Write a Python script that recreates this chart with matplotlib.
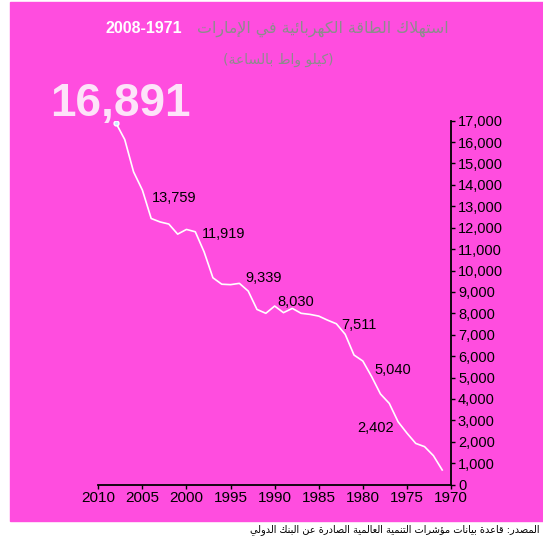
import matplotlib
matplotlib.use('Agg')
import matplotlib.pyplot as plt
from matplotlib.patches import Rectangle
from matplotlib.ticker import FuncFormatter, MultipleLocator

# electricity consumption, kWh per capita
years = list(range(2008, 1970, -1))
values = [16891, 16120, 14610, 13759, 12430, 12270, 12170, 11700, 11919, 11810,
          10870, 9660, 9360, 9339, 9400, 9040, 8180, 8000, 8340, 8030,
          8230, 8000, 7950, 7870, 7680, 7511, 7020, 6050, 5770, 5040,
          4230, 3790, 2930, 2402, 1920, 1770, 1350, 680]
label_years = [2005, 2000, 1995, 1989, 1983, 1979, 1975]
big_year = 2008

title_ar = 'استهلاك الطاقة الكهربائية في الإمارات'
title_years = '2008-1971'
subtitle_ar = 'كيلو واط بالساعة'
source_ar = 'المصدر: قاعدة بيانات مؤشرات التنمية العالمية الصادرة عن البنك الدولي'

# matplotlib does no arabic shaping, so pick the presentation forms by hand
dual = {'ب': 0xFE8F, 'ت': 0xFE95, 'س': 0xFEB1, 'ش': 0xFEB5, 'ص': 0xFEB9,
        'ط': 0xFEC1, 'ع': 0xFEC9, 'ف': 0xFED1, 'ق': 0xFED5, 'ك': 0xFED9,
        'ل': 0xFEDD, 'م': 0xFEE1, 'ن': 0xFEE5, 'ه': 0xFEE9, 'ي': 0xFEF1,
        'ئ': 0xFE89}
right = {'ا': 0xFE8D, 'إ': 0xFE87, 'ة': 0xFE93, 'د': 0xFEA9, 'ر': 0xFEAD,
         'و': 0xFEED, 'ؤ': 0xFE85}
lamalef = {'ا': 0xFEFB, 'إ': 0xFEF9}


def shape(s):
    out = []
    i = 0
    prev_joins = False
    while i < len(s):
        c = s[i]
        nxt = s[i + 1] if i + 1 < len(s) else ''
        if c == 'ل' and nxt in lamalef:
            out.append(chr(lamalef[nxt] + (1 if prev_joins else 0)))
            prev_joins = False
            i += 2
            continue
        if c in dual:
            b = dual[c]
            joins_next = nxt in dual or nxt in right
            if prev_joins and joins_next:
                out.append(chr(b + 3))
            elif prev_joins:
                out.append(chr(b + 1))
            elif joins_next:
                out.append(chr(b + 2))
            else:
                out.append(chr(b))
            prev_joins = joins_next
        elif c in right:
            out.append(chr(right[c] + (1 if prev_joins else 0)))
            prev_joins = False
        else:
            out.append(c)
            prev_joins = False
        i += 1
    return ''.join(out[::-1])


plt.rcParams['font.family'] = ['Liberation Sans', 'DejaVu Sans']
pink = '#ff4ddf'

fig = plt.figure(figsize=(5.43, 5.41), dpi=100)
fig.patches.append(Rectangle((10 / 543, 1 - 521 / 541), 533 / 543, 519 / 541,
                             transform=fig.transFigure, color=pink, zorder=-5))

ax = fig.add_axes([0.181, 0.1044, 0.6496, 0.6725])
ax.set_facecolor('none')
ax.plot(years, values, color='white', lw=1.2)
ax.plot([big_year], [values[years.index(big_year)]], marker='o', ms=3.5,
        mfc='#c6ecff', mec='white', mew=1)

ax.set_xlim(2010, 1970)
ax.set_ylim(0, 17000)
ax.xaxis.set_major_locator(MultipleLocator(5))
ax.yaxis.set_major_locator(MultipleLocator(1000))
ax.yaxis.set_major_formatter(FuncFormatter(lambda v, p: f'{int(v):,}'))
ax.yaxis.tick_right()
for s in ['top', 'left']:
    ax.spines[s].set_visible(False)
ax.spines['right'].set_linewidth(1.3)
ax.spines['bottom'].set_linewidth(1.3)
ax.tick_params(axis='both', length=3, width=1, labelsize=10.5, pad=2)
ax.tick_params(axis='x', labelsize=11)

offsets = {2005: (10, -12, 'left'), 2000: (15, -9, 'left'), 1995: (15, 3, 'left'),
           1989: (-6, 7, 'left'), 1983: (5, -5, 'left'), 1979: (3, 3, 'left'),
           1975: (-13, 1, 'right')}
for yr in label_years:
    v = values[years.index(yr)]
    dx, dy, ha = offsets[yr]
    ax.annotate(f'{v:,}', (yr, v), xytext=(dx, dy), textcoords='offset pixels',
                ha=ha, va='baseline', fontsize=10.5, color='black')

bv = values[years.index(big_year)]
ax.annotate(f'{bv:,}', (big_year, bv), xytext=(-66, 7), textcoords='offset pixels',
            ha='left', va='baseline', fontsize=33, fontweight='bold',
            color='#fde3f9', annotation_clip=False)

fig.text(449 / 543, 1 - 33 / 541, shape(title_ar), ha='right', va='baseline',
         fontsize=11.4, color='#8c8c8c', family=['DejaVu Sans'])
fig.text(182 / 543, 1 - 33 / 541, title_years, ha='right', va='baseline',
         fontsize=11.5, fontweight='bold', color='white')
fig.text(278 / 543, 1 - 60 / 541, '(' + shape(subtitle_ar) + ')', ha='center',
         va='center', fontsize=10, color='#8c8c8c', family=['DejaVu Sans'])
fig.text(540 / 543, 1 - 530 / 541, shape(source_ar), ha='right', va='center',
         fontsize=7, color='black', family=['DejaVu Sans'])

fig.savefig('out.png', dpi=100)
